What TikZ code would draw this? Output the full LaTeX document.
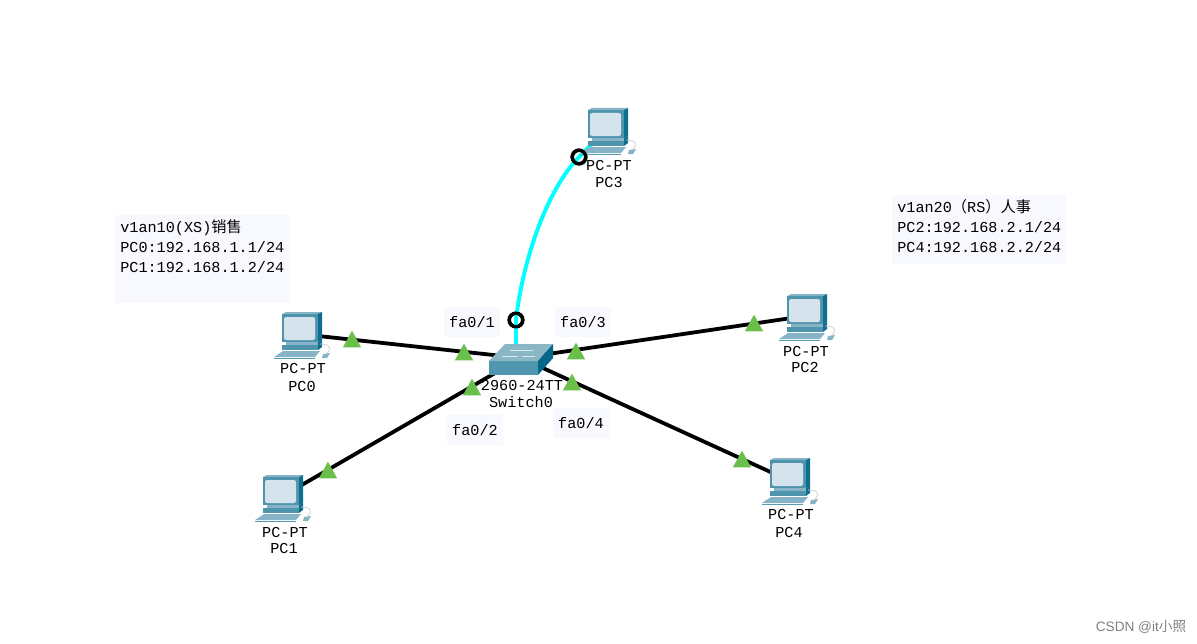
\documentclass[tikz,border=0pt]{standalone}
\usepackage{fontspec}
\setmainfont{Liberation Mono}
\newfontfamily\cjk{Noto Sans CJK SC}
\newfontfamily\wmfont{Liberation Sans}
\usepackage{xcolor}
\usetikzlibrary{shapes.geometric}
\definecolor{pcmid}{HTML}{4F94AD}
\definecolor{pcdark}{HTML}{0E6F8C}
\definecolor{pclight}{HTML}{86B4C6}
\definecolor{pcscreen}{HTML}{D5E4EC}
\definecolor{swfront}{HTML}{5096AE}
\definecolor{swtop}{HTML}{8AB6C6}
\definecolor{swside}{HTML}{06678A}
\definecolor{portgreen}{HTML}{6ABF4B}
\definecolor{notefill}{HTML}{F8F9FF}
\definecolor{consolecyan}{HTML}{00FFFF}

\begin{document}
\begin{tikzpicture}[
        x=0.025cm, y=-0.025cm,
        device/.style={minimum width=1cm, minimum height=1cm, inner sep=0pt},
        name label/.style={font=\fontsize{10.8}{12}\selectfont, inner sep=0pt},
        note/.style={fill=notefill, anchor=north west, align=left, inner xsep=0.125cm, inner ysep=0.1cm, font=\fontsize{10.8}{14.2}\selectfont},
        portbox/.style={fill=notefill, minimum width=1.38cm, minimum height=0.74cm, inner sep=0pt, font=\fontsize{10.8}{12}\selectfont},
        link/.style={line width=2.7pt, black},
        console/.style={line width=2.8pt, consolecyan},
        port/.style={isosceles triangle, shape border rotate=90, isosceles triangle stretches, fill=portgreen, minimum width=0.46cm, minimum height=0.42cm, inner sep=0pt, yshift=-0.05cm},
        endring/.style={circle, draw=black, line width=2.4pt, minimum size=0.34cm, inner sep=0pt},
        pcicon/.pic={
            \fill[pclight] (-18,-20) -- (-14,-22) -- (22,-22) -- (18,-20) -- cycle;
            \fill[pcmid] (-18,-20) rectangle (18,8);
            \fill[pcdark] (18,-20) -- (22,-22) -- (22,6) -- (18,8) -- cycle;
            \fill[pcscreen, rounded corners=1.5pt] (-16,-17) rectangle (15,6);
            \fill[pclight] (-14,8) rectangle (18,11);
            \fill[pcmid] (-18,11) rectangle (18,16);
            \fill[pcdark] (18,8) -- (22,6) -- (22,13) -- (18,16) -- cycle;
            \fill[pclight] (-17,17) -- (20,17) -- (15,23) -- (-26,23) -- cycle;
            \draw[pcdark!70, line width=0.6pt] (-26,24) -- (15,24);
            \fill[pclight] (23,20) -- (30,19) -- (27,24) -- (22,24) -- cycle;
            \draw[gray!40, line width=0.5pt] (20,10) .. controls (30,10) and (32,14) .. (27,19);
        }
    ]
    \useasboundingbox (0,0) rectangle (1197,644);

    % NOTAS
    \node[note] (vlan10) at (115,215) {v1an10(XS){\cjk 销售}\\PC0:192.168.1.1/24\\PC1:192.168.1.2/24\\~\rule[-0.18cm]{0pt}{0pt}};
    \node[note] (vlan20) at (892,195) {v1an20{\cjk （}RS{\cjk ）人事}\\PC2:192.168.2.1/24\\PC4:192.168.2.2/24\rule[-0.2cm]{0pt}{0pt}};

    % EQUIPOS
    \node[device] (pc0) at (300,334) {};
    \node[device] (pc1) at (281,497) {};
    \node[device] (pc2) at (805,316) {};
    \node[device] (pc3) at (606,130) {};
    \node[device] (pc4) at (788,480) {};
    \node[device] (sw0) at (521,358) {};
    \coordinate (swup) at (516,358);
    \node[endring] (ring1) at (516,320) {};
    \node[endring] (ring2) at (579,157) {};

    % ENLACES
    \draw[link] (pc0.center) -- (sw0.center);
    \draw[link] (pc1.center) -- (sw0.center);
    \draw[link] (pc2.center) -- (sw0.center);
    \draw[link] (pc4.center) -- (sw0.center);
    \draw[console] (swup) -- (ring1.center) .. controls (522,265) and (545,192) .. (ring2.center) -- (pc3.center);

    % ICONOS
    \pic at (pc0) {pcicon};
    \pic at (pc1) {pcicon};
    \pic at (pc2) {pcicon};
    \pic at (pc3) {pcicon};
    \pic at (pc4) {pcicon};
    \fill[swtop] (489,361) -- (505,344) -- (553,344) -- (538,361) -- cycle;
    \fill[swfront] (489,361) rectangle (538,375);
    \fill[swside] (538,361) -- (553,344) -- (553,358) -- (538,375) -- cycle;
    \draw[white!80!swfront, line width=0.6pt] (510,350) -- (526,350) (533,350) -- (518,350) (502,356) -- (518,356) (522,356) -- (535,356);
    \node[endring] at (ring1) {};
    \node[endring] at (ring2) {};

    % PUERTOS
    \node[port] (t1) at (352,340) {};
    \node[port] (t2) at (464,353) {};
    \node[port] (t3) at (472,388) {};
    \node[port] (t4) at (328,471) {};
    \node[port] (t5) at (576,352) {};
    \node[port] (t6) at (754,324) {};
    \node[port] (t7) at (572,383) {};
    \node[port] (t8) at (742,460) {};

    % ETIQUETAS
    \node[name label] (type0) at (303,368) {PC-PT};
    \node[name label] (name0) at (302,386) {PC0};
    \node[name label] (type1) at (285,532) {PC-PT};
    \node[name label] (name1) at (284,548) {PC1};
    \node[name label] (type2) at (806,351) {PC-PT};
    \node[name label] (name2) at (805,367) {PC2};
    \node[name label] (type3) at (609,165) {PC-PT};
    \node[name label] (name3) at (609,182) {PC3};
    \node[name label] (type4) at (791,514) {PC-PT};
    \node[name label] (name4) at (789,532) {PC4};
    \node[name label] (typesw) at (522,385) {2960-24TT};
    \node[name label] (namesw) at (521,402) {Switch0};

    \node[portbox] (fa1) at (472,322) {fa0/1};
    \node[portbox] (fa2) at (475,430) {fa0/2};
    \node[portbox] (fa3) at (583,322) {fa0/3};
    \node[portbox] (fa4) at (581,423) {fa0/4};

    \node[text=gray!100, font=\wmfont\fontsize{9.7}{11}\selectfont, inner sep=0pt] (mark) at (1141,627) {CSDN @it{\cjk 小照}};
\end{tikzpicture}
\end{document}
